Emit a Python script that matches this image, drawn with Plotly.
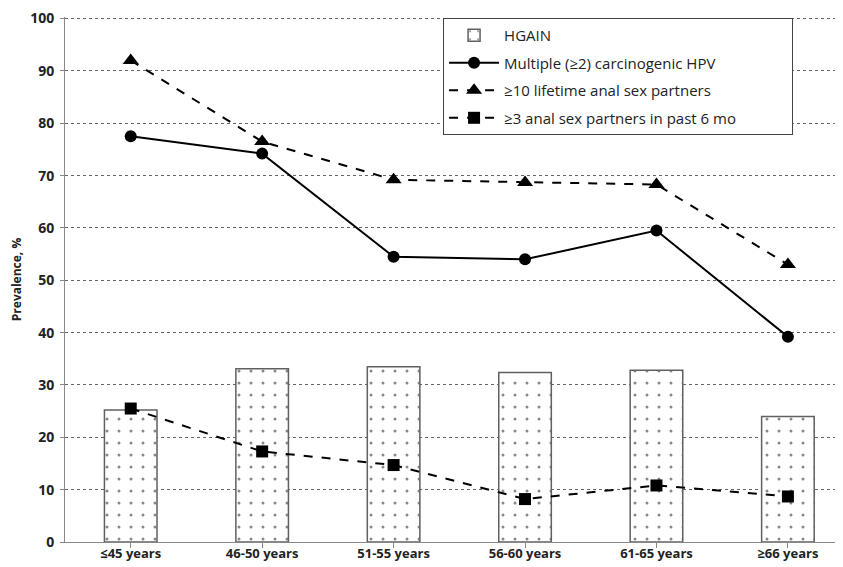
import plotly.graph_objects as go

categories = ["≤45 years", "46-50 years", "51-55 years", "56-60 years", "61-65 years", "≥66 years"]
hgain = [25.2, 33.1, 33.5, 32.4, 32.8, 24.0]
multi_hpv = [77.5, 74.2, 54.5, 54.0, 59.5, 39.2]
lifetime10 = [92.0, 76.5, 69.2, 68.7, 68.3, 53.0]
recent3 = [25.5, 17.3, 14.7, 8.2, 10.8, 8.7]
yticks = [0, 10, 20, 30, 40, 50, 60, 70, 80, 90, 100]

pad = "\u00a0" * 13
x = list(range(len(categories)))
fig = go.Figure()
fig.add_trace(go.Bar(
    x=x, y=hgain, name="HGAIN", width=0.4, legendgroup="a",
    marker=dict(color="white", line=dict(color="#606060", width=1.5),
                pattern=dict(shape=".", fgcolor="#111111", bgcolor="white", size=12, solidity=0.05)),
))
fig.add_trace(go.Scatter(
    x=x, y=multi_hpv, name="Multiple (≥2) carcinogenic HPV", mode="lines+markers", legendgroup="b",
    line=dict(color="black", width=2), marker=dict(symbol="circle", size=12, color="black"),
))
fig.add_trace(go.Scatter(
    x=x, y=lifetime10, name="≥10 lifetime anal sex partners", mode="lines+markers", legendgroup="c",
    line=dict(color="black", width=2, dash="dash"), marker=dict(symbol="triangle-up", size=14, color="black"),
))
fig.add_trace(go.Scatter(
    x=x, y=recent3, name="≥3 anal sex partners in past 6 mo" + pad, mode="lines+markers", legendgroup="d",
    line=dict(color="black", width=2, dash="dash"), marker=dict(symbol="square", size=12, color="black"),
))

fig.update_layout(
    width=843, height=567,
    margin=dict(l=57, r=0, t=6, b=33),
    plot_bgcolor="white", paper_bgcolor="white",
    font=dict(family="Open Sans", color="#333333"),
    showlegend=True,
    legend=dict(x=0.481, y=0.998, xanchor="left", yanchor="top",
                bordercolor="#444444", borderwidth=1, bgcolor="white",
                font=dict(size=15, color="#222222"), tracegroupgap=5,
                itemwidth=50),
)
fig.update_xaxes(
    tickmode="array", tickvals=x, ticktext=["<b>%s</b>" % c for c in categories],
    range=[-0.5, 5.48], showgrid=False, showline=True, linecolor="#888888", linewidth=1,
    ticks="outside", ticklen=5, tickcolor="#888888", tickson="boundaries",
    ticklabelstandoff=-6, ticklabeloverflow="allow",
    tickfont=dict(size=13, color="#222222", family="Open Sans"),
)
fig.update_yaxes(
    range=[0, 100.3], tickmode="array", tickvals=yticks, ticktext=["<b>%d</b>" % v for v in yticks],
    showgrid=True, gridcolor="#666666", griddash="dot", gridwidth=1,
    showline=True, linecolor="#888888", linewidth=1, ticks="outside", ticklen=4, tickcolor="#888888",
    ticklabelstandoff=3, ticklabeloverflow="allow",
    tickfont=dict(size=14, color="#222222", family="Open Sans"),
    title=dict(text="<b>Prevalence, %</b>", font=dict(size=12, color="#222222"), standoff=14),
    zeroline=False,
)

fig.write_html("out.html")
